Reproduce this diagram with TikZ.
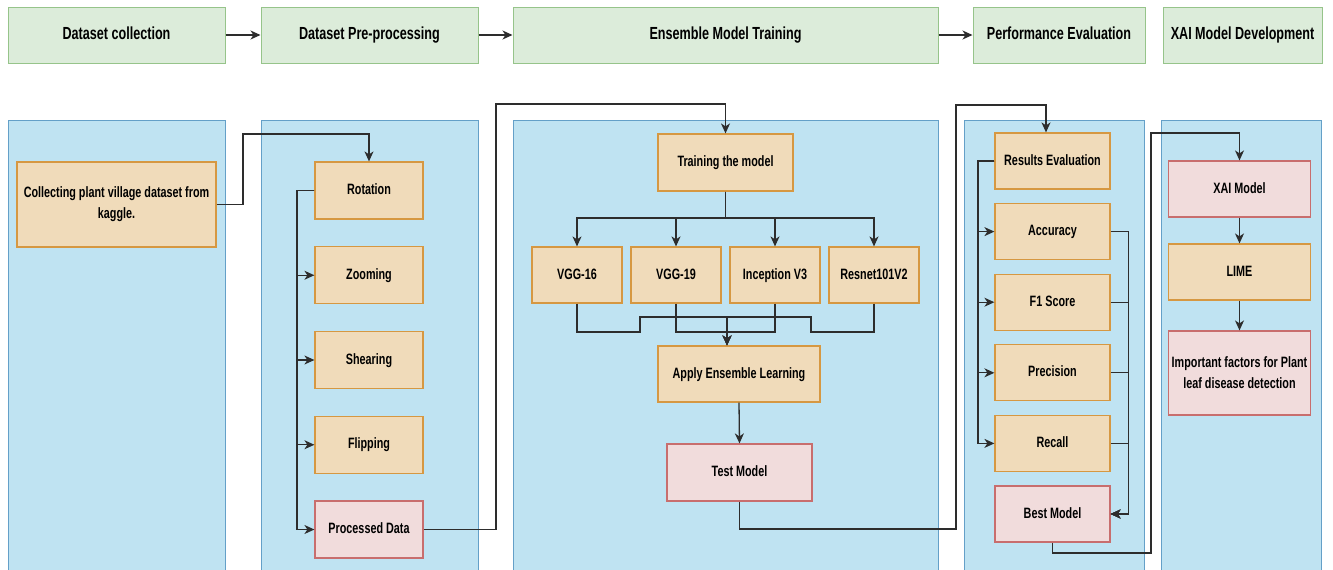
\documentclass[tikz,border=0pt]{standalone}
\usepackage{fontspec}
\setmainfont{Liberation Sans}[FakeStretch=0.72]
\usetikzlibrary{arrows.meta}
\definecolor{hdrfill}{RGB}{220,236,218}
\definecolor{hdrline}{RGB}{150,196,138}
\definecolor{panfill}{RGB}{191,227,242}
\definecolor{panline}{RGB}{100,160,200}
\definecolor{ofill}{RGB}{240,219,186}
\definecolor{oline}{RGB}{214,152,66}
\definecolor{pfill}{RGB}{241,220,220}
\definecolor{pline}{RGB}{200,110,110}
\definecolor{lnc}{RGB}{45,45,45}
\begin{document}
\begin{tikzpicture}[x=1pt,y=-1pt,
  hdr/.style={draw=hdrline, fill=hdrfill, line width=1pt, font=\fontsize{17.5}{21}\selectfont\bfseries, inner sep=0pt, minimum height=56pt, text height=12.5pt, text depth=3.5pt},
  panel/.style={draw=panline, fill=panfill, line width=1pt},
  obox/.style={draw=oline, fill=ofill, line width=1.2pt, font=\fontsize{15}{21}\selectfont\bfseries, align=center, inner sep=2pt},
  one/.style={text height=11pt, text depth=3pt},
  pbox/.style={obox, draw=pline, fill=pfill},
  conn/.style={draw=lnc, line width=1.3pt, -{Stealth[length=10pt,width=9pt,inset=3pt]}}]
\useasboundingbox (0,0) rectangle (1333,570);
\fill[white] (0,0) rectangle (1333,570);

% headers
\node[hdr, minimum width=217pt] (h1) at (116.5,35) {Dataset collection};
\node[hdr, minimum width=217pt] (h2) at (369.5,35) {Dataset Pre-processing};
\node[hdr, minimum width=425pt] (h3) at (725.5,35) {Ensemble Model Training};
\node[hdr, minimum width=172pt] (h4) at (1059,35) {Performance Evaluation};
\node[hdr, minimum width=159pt] (h5) at (1242.5,35) {XAI Model Development};
\draw[conn] (h1.east) -- (h2.west);
\draw[conn] (h2.east) -- (h3.west);
\draw[conn] (h3.east) -- (h4.west);

% panels
\path[panel] (8,120) rectangle (225,590);
\path[panel] (261,120) rectangle (478,590);
\path[panel] (513,120) rectangle (938,590);
\path[panel] (964,120) rectangle (1144,590);
\path[panel] (1161,120) rectangle (1321,590);

% panel 1 and 2
\node[obox, minimum width=199pt, minimum height=85pt] (collect) at (116.5,204.5) {Collecting plant village dataset from\\kaggle.};
\node[obox, one, minimum width=108pt, minimum height=57pt] (rot) at (369,190.5) {Rotation};
\node[obox, one, minimum width=108pt, minimum height=57pt] (zoom) at (369,275.25) {Zooming};
\node[obox, one, minimum width=108pt, minimum height=57pt] (shear) at (369,360) {Shearing};
\node[obox, one, minimum width=108pt, minimum height=57pt] (flip) at (369,444.75) {Flipping};
\node[pbox, one, minimum width=108pt, minimum height=57pt] (proc) at (369,529.5) {Processed Data};

\draw[conn] (collect.east) -| (243,134) -| (rot.north);
\draw[conn] (rot.west) -- (297,190.5) |- (zoom.west);
\draw[conn] (rot.west) -- (297,190.5) |- (shear.west);
\draw[conn] (rot.west) -- (297,190.5) |- (flip.west);
\draw[conn] (rot.west) -- (297,190.5) |- (proc.west);

% panel 3
\node[obox, one, minimum width=135pt, minimum height=57pt] (train) at (725.5,162.5) {Training the model};
\node[obox, one, minimum width=90pt, minimum height=56pt] (vgg16) at (577,275) {VGG-16};
\node[obox, one, minimum width=90pt, minimum height=56pt] (vgg19) at (676,275) {VGG-19};
\node[obox, one, minimum width=90pt, minimum height=56pt] (incep) at (775,275) {Inception V3};
\node[obox, one, minimum width=90pt, minimum height=56pt] (resnet) at (874,275) {Resnet101V2};
\node[obox, one, minimum width=162pt, minimum height=56pt] (apply) at (739,374) {Apply Ensemble Learning};
\node[pbox, one, minimum width=145pt, minimum height=57pt] (test) at (739.5,472.5) {Test Model};

\draw[conn] (proc.east) -| (496,104) -| (train.north);
\draw[conn] (train.south) |- (725.5,218) -| (vgg16.north);
\draw[conn] (train.south) |- (725.5,218) -| (vgg19.north);
\draw[conn] (train.south) |- (725.5,218) -| (incep.north);
\draw[conn] (train.south) |- (725.5,218) -| (resnet.north);
\draw[conn] (vgg16.south) |- (640,332) |- (727,317) -- ([xshift=-12pt]apply.north);
\draw[conn] (resnet.south) |- (811,332) |- (727,317) -- ([xshift=-12pt]apply.north);
\draw[conn] (vgg19.south) |- (727,332) -- ([xshift=-12pt]apply.north);
\draw[conn] (incep.south) |- (727,332) -- ([xshift=-12pt]apply.north);
\draw[conn] (apply.south) -- (test.north);

% panel 4
\node[obox, one, minimum width=115pt, minimum height=56pt] (res) at (1052.5,161) {Results Evaluation};
\node[obox, one, minimum width=115pt, minimum height=56pt] (acc) at (1052.5,231.6) {Accuracy};
\node[obox, one, minimum width=115pt, minimum height=56pt] (f1) at (1052.5,302.2) {F1 Score};
\node[obox, one, minimum width=115pt, minimum height=56pt] (prec) at (1052.5,372.8) {Precision};
\node[obox, one, minimum width=115pt, minimum height=56pt] (rec) at (1052.5,443.4) {Recall};
\node[pbox, one, minimum width=115pt, minimum height=56pt] (best) at (1052.5,514) {Best Model};

\draw[conn] (test.south) |- (956,529) |- (1046,105) -- ([xshift=-6.5pt]res.north);
\draw[conn] (res.west) -- (978,161) |- (acc.west);
\draw[conn] (res.west) -- (978,161) |- (f1.west);
\draw[conn] (res.west) -- (978,161) |- (prec.west);
\draw[conn] (res.west) -- (978,161) |- (rec.west);
\draw[conn] (acc.east) -- (1128.5,231.6) |- (best.east);
\draw[conn] (f1.east) -- (1128.5,302.2) |- (best.east);
\draw[conn] (prec.east) -- (1128.5,372.8) |- (best.east);
\draw[conn] (rec.east) -- (1128.5,443.4) |- (best.east);

% panel 5
\node[pbox, one, minimum width=142pt, minimum height=56pt] (xai) at (1239.5,189) {XAI Model};
\node[obox, one, minimum width=142pt, minimum height=56pt] (lime) at (1239.5,272) {LIME};
\node[pbox, minimum width=142pt, minimum height=84pt] (imp) at (1239.5,373) {Important factors for Plant\\leaf disease detection};

\draw[conn] (best.south) |- (1151,553) |- (1239.5,133) -- (xai.north);
\draw[conn] (xai.south) -- (lime.north);
\draw[conn] (lime.south) -- (imp.north);
\end{tikzpicture}
\end{document}
